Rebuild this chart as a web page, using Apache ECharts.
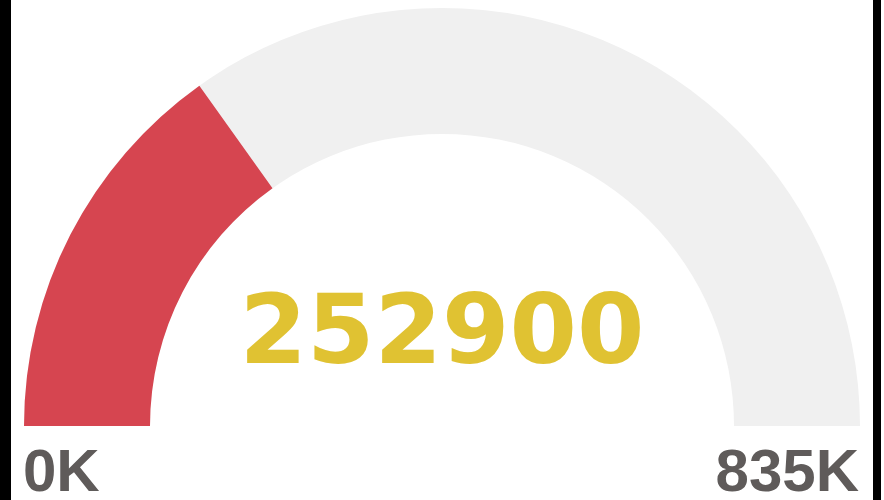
<!DOCTYPE html>
<html>
<head>
<meta charset="utf-8">
<script src="https://cdn.jsdelivr.net/npm/echarts@6/dist/echarts.min.js"></script>
<style>
  html, body { margin: 0; padding: 0; background: #fff; }
  #chart { width: 884px; height: 500px; position: relative; }
  .edge { position: absolute; top: 0; height: 500px; background: #000; }
</style>
</head>
<body>
<div id="chart"></div>
<div class="edge" style="left:0;width:11px"></div>
<div class="edge" style="left:873px;width:8px"></div>
<script>
// gauge data
const gaugeMin = 0
const gaugeMax = 835000
const gaugeValue = 252900
const rangeLabels = ['0K', '835K']

const chart = echarts.init(document.getElementById('chart'))

const labelStyle = {
  fontFamily: 'Liberation Sans, Arial, sans-serif',
  fontWeight: 'bold',
  fontSize: 60,
  fill: '#5f5b5a'
}

const option = {
  backgroundColor: '#fff',
  animation: false,
  series: [
    {
      type: 'gauge',
      center: [442, 426],
      radius: 418,
      startAngle: 180,
      endAngle: 0,
      min: gaugeMin,
      max: gaugeMax,
      progress: {
        show: true,
        width: 126,
        roundCap: false,
        itemStyle: { color: '#d64550' }
      },
      axisLine: {
        roundCap: false,
        lineStyle: { width: 126, color: [[1, '#f0f0f0']] }
      },
      pointer: { show: false },
      anchor: { show: false },
      axisTick: { show: false },
      splitLine: { show: false },
      axisLabel: { show: false },
      title: { show: false },
      detail: {
        valueAnimation: false,
        offsetCenter: [0, -88],
        fontFamily: 'DejaVu Sans',
        fontWeight: 'bold',
        fontSize: 97,
        color: '#e0c232',
        formatter: v => String(v)
      },
      data: [{ value: gaugeValue }]
    }
  ],
  graphic: [
    {
      type: 'text',
      left: 23,
      top: 444,
      style: Object.assign({ text: rangeLabels[0] }, labelStyle)
    },
    {
      type: 'text',
      right: 25,
      top: 444,
      style: Object.assign({ text: rangeLabels[1] }, labelStyle)
    }
  ]
}

chart.setOption(option)
</script>
</body>
</html>
